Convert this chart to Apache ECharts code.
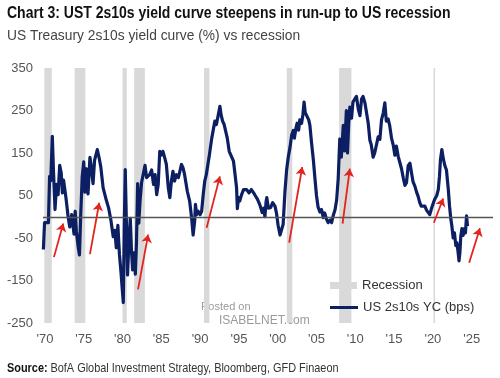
<!DOCTYPE html>
<html><head><meta charset="utf-8">
<script src="https://cdn.jsdelivr.net/npm/echarts@6/dist/echarts.min.js"></script>
<style>html,body{margin:0;padding:0;background:#fff}#c{width:500px;height:378px}</style>
</head><body><div id="c"></div>
<script>
const years = [1969.8,1969.95,1970.2,1970.45,1970.6,1970.75,1970.95,1971.1,1971.3,1971.5,1971.7,1971.9,1972.1,1972.25,1972.4,1972.7,1973.0,1973.2,1973.45,1973.65,1973.75,1973.9,1974.05,1974.3,1974.45,1974.6,1974.8,1975.0,1975.15,1975.35,1975.55,1975.8,1976.0,1976.2,1976.4,1976.75,1977.0,1977.2,1977.5,1977.85,1978.2,1978.5,1978.8,1979.0,1979.2,1979.4,1979.6,1979.8,1979.95,1980.1,1980.22,1980.35,1980.5,1980.65,1980.82,1981.0,1981.15,1981.3,1981.48,1981.65,1981.8,1981.95,1982.1,1982.25,1982.45,1982.65,1982.9,1983.1,1983.3,1983.5,1983.75,1984.0,1984.2,1984.4,1984.6,1984.8,1985.0,1985.2,1985.45,1985.65,1985.9,1986.1,1986.3,1986.5,1986.7,1986.95,1987.2,1987.4,1987.6,1987.8,1988.0,1988.35,1988.65,1988.9,1989.1,1989.3,1989.4,1989.55,1989.75,1990.0,1990.2,1990.4,1990.6,1990.8,1991.0,1991.2,1991.5,1991.7,1991.9,1992.1,1992.3,1992.55,1992.7,1992.9,1993.1,1993.3,1993.5,1993.75,1994.0,1994.3,1994.5,1994.7,1994.8,1994.95,1995.1,1995.35,1995.6,1995.8,1996.0,1996.3,1996.6,1996.9,1997.1,1997.4,1997.7,1998.0,1998.2,1998.35,1998.5,1998.6,1998.8,1999.1,1999.35,1999.65,1999.85,2000.05,2000.3,2000.5,2000.7,2000.93,2001.15,2001.36,2001.6,2001.8,2002.0,2002.15,2002.35,2002.5,2002.7,2002.85,2003.08,2003.25,2003.4,2003.55,2003.8,2004.0,2004.15,2004.35,2004.6,2004.8,2005.0,2005.2,2005.44,2005.65,2005.87,2006.05,2006.3,2006.5,2006.73,2006.95,2007.16,2007.4,2007.6,2007.8,2008.0,2008.2,2008.45,2008.62,2008.85,2009.0,2009.15,2009.3,2009.52,2009.7,2009.95,2010.15,2010.38,2010.6,2010.81,2011.0,2011.24,2011.45,2011.67,2011.88,2012.05,2012.3,2012.5,2012.74,2012.95,2013.17,2013.38,2013.6,2013.81,2014.0,2014.24,2014.45,2014.67,2014.9,2015.1,2015.3,2015.53,2015.75,2015.96,2016.2,2016.4,2016.6,2016.82,2017.05,2017.25,2017.45,2017.68,2017.9,2018.1,2018.3,2018.5,2018.75,2018.97,2019.2,2019.4,2019.6,2019.83,2020.05,2020.26,2020.5,2020.7,2020.85,2020.98,2021.16,2021.35,2021.55,2021.75,2021.98,2022.15,2022.32,2022.45,2022.62,2022.78,2022.96,2023.1,2023.26,2023.37,2023.48,2023.6,2023.74,2023.9,2024.08,2024.2,2024.34,2024.47];
const values = [-77,-14,-18,-14,95,85,189,108,17,76,52,121,103,56,86,46,-2,-24,5,-26,-41,13,-34,-73,-90,-2,93,129,58,113,54,140,113,78,133,158,137,117,68,43,21,-8,-47,-32,-73,-20,-88,-130,-167,-202,-30,111,-15,-137,-60,-4,-78,-125,-85,-135,-60,78,-15,35,80,82,121,92,88,99,110,76,99,52,76,154,145,154,138,123,68,45,84,107,84,99,92,90,123,115,99,60,37,-2,-43,-10,29,5,13,5,13,52,84,99,123,146,185,205,225,217,236,260,240,225,217,221,185,154,150,131,100,68,19,45,37,52,64,68,64,56,64,56,50,41,28,10,20,0,35,45,20,22,33,25,8,-20,-43,-40,-18,58,110,140,165,192,203,185,208,220,204,228,220,240,270,245,242,228,215,176,133,90,50,23,11,17,-2,9,-6,-14,-8,-14,3,17,40,90,183,140,215,155,250,150,218,258,232,270,272,283,254,238,277,283,268,271,220,180,170,140,150,170,188,182,228,244,268,225,230,213,185,168,145,166,142,127,113,90,74,80,120,126,103,82,72,58,48,34,25,21,25,15,13,5,20,32,42,50,64,95,135,158,136,120,110,66,25,-6,-22,-50,-38,-68,-61,-85,-104,-85,-45,-28,-44,-28,-38,2,-22];
const recessions = [[1969.92,1970.88],[1973.83,1975.2],[1980.0,1980.55],[1981.5,1982.88],[1990.5,1991.2],[2001.17,2001.88],[2007.92,2009.5],[2020.08,2020.28]];
const arrowStart = [[1971.16,-95],[1975.8,-88],[1982.0,-171],[1990.84,-26],[2001.48,-61],[2008.36,-16],[2020.13,-14],[2024.68,-108]];
const arrowEnd = [[1972.36,-16],[1977.0,33],[1983.3,-42],[1992.55,95],[2003.16,117],[2009.3,113],[2021.33,43],[2026.06,-27]];
const yearTicks = [1970,1975,1980,1985,1990,1995,2000,2005,2010,2015,2020,2025];
const yTicks = [-250,-150,-50,50,150,250,350];

const chart = echarts.init(document.getElementById('c'), null, {renderer:'canvas'});
const FONT = 'Liberation Sans, Arial, sans-serif';
const NAVY = '#0c1f63';
const legText = {color:'#333',fontSize:13,fontFamily:FONT};
chart.setOption({
  animation:false,
  backgroundColor:'#fff',
  grid:{left:43,right:7,top:68,bottom:55,containLabel:false},
  xAxis:{type:'value',min:1969.75,max:2027.75,
    axisLine:{show:false},axisTick:{show:false},splitLine:{show:false},
    axisLabel:{customValues:yearTicks,color:'#555',fontSize:13,fontFamily:FONT,margin:10,
      formatter:v=>"'"+String(Math.round(v)%100).padStart(2,'0')}},
  yAxis:{type:'value',min:yTicks[0],max:yTicks[yTicks.length-1],interval:100,
    axisLine:{show:false},axisTick:{show:false},splitLine:{show:false},
    axisLabel:{color:'#555',fontSize:13,fontFamily:FONT,margin:10}},
  legend:[
    {orient:'vertical',left:325,top:274,itemWidth:27,itemHeight:7,padding:5,
      textStyle:legText,data:[{name:'Recession',icon:'rect',itemStyle:{color:'#d9d9d9'}}]},
    {orient:'vertical',left:325,top:296,itemWidth:28,itemHeight:3,padding:5,
      textStyle:legText,data:[{name:'US 2s10s YC (bps)',icon:'rect',itemStyle:{color:NAVY}}]}
  ],
  graphic:[
    {type:'text',x:7,y:6,scaleX:0.875,style:{text:'Chart 3: UST 2s10s yield curve steepens in run-up to US recession',fill:'#111',font:'bold 16px '+FONT}},
    {type:'text',x:7,y:28,scaleX:0.92,style:{text:'US Treasury 2s10s yield curve (%) vs recession',fill:'#444',font:'15px '+FONT}},
    {type:'text',x:7,y:362,scaleX:0.84,style:{rich:{b:{font:'bold 13px '+FONT,fill:'#111'},n:{font:'13px '+FONT,fill:'#333'}},text:'{b|Source:} {n|BofA Global Investment Strategy, Bloomberg, GFD Finaeon}'}},
    {type:'text',x:201,y:301,style:{text:'Posted on',fill:'#9a9a9a',font:'11px '+FONT}},
    {type:'text',x:219,y:315,style:{text:'ISABELNET.com',fill:'#9a9a9a',font:'12px '+FONT}}
  ],
  series:[
    {name:'Recession',type:'line',data:[],color:'#d9d9d9',z:1,
      markArea:{silent:true,itemStyle:{color:'#d9d9d9'},
        data:recessions.map(r=>[{xAxis:r[0],yAxis:yTicks[0]},{xAxis:r[1],yAxis:yTicks[yTicks.length-1]}])}},
    {name:'US 2s10s YC (bps)',type:'line',showSymbol:false,symbol:'none',z:3,
      color:NAVY,lineStyle:{color:NAVY,width:3.2,join:'round'},
      data:years.map((y,i)=>[y,values[i]]),
      markLine:{silent:true,symbol:'none',label:{show:false},lineStyle:{color:'#555',width:1.4,type:'solid'},data:[{yAxis:0}]}},
    {name:'arrows',type:'lines',coordinateSystem:'cartesian2d',z:5,
      symbol:['none','arrow'],symbolSize:8,
      lineStyle:{color:'#e3241e',width:1.8,opacity:1},
      data:arrowStart.map((s,i)=>({coords:[s,arrowEnd[i]]}))}
  ]
});
</script></body></html>
